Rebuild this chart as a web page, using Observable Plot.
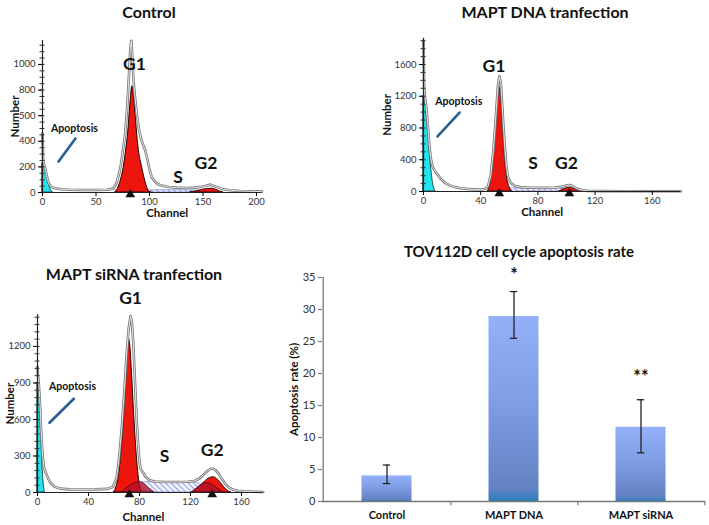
<!DOCTYPE html>
<html><head><meta charset="utf-8">
<script src="https://cdn.jsdelivr.net/npm/d3@7"></script>
<script src="https://cdn.jsdelivr.net/npm/@observablehq/plot@0.6"></script>
<style>
body{margin:0;background:#fff;}
#root{position:relative;width:709px;height:525px;overflow:hidden;font-family:Lato,"Open Sans",sans-serif;}
.panel{position:absolute;}
.title{position:absolute;font-weight:bold;font-size:16px;transform:translate(-50%,-50%);white-space:nowrap;color:#111;font-family:Lato,"Open Sans",sans-serif;}
</style></head><body>
<svg width="0" height="0" style="position:absolute">
<defs>
<pattern id="hatch" patternUnits="userSpaceOnUse" width="4" height="4" patternTransform="rotate(-45)">
<rect width="4" height="4" fill="#f1f2ff"/>
<line x1="0" y1="0" x2="0" y2="4" stroke="#7079d8" stroke-width="1.4"/>
</pattern>
<linearGradient id="barGrad" x1="0" y1="0" x2="0" y2="1">
<stop offset="0%" stop-color="#93b0f9"/>
<stop offset="45%" stop-color="#809ee6"/>
<stop offset="93%" stop-color="#6482c2"/>
<stop offset="98%" stop-color="#3f7fbf"/>
<stop offset="100%" stop-color="#1d82b2"/>
</linearGradient>
</defs></svg>
<div id="root"></div>
<script>
// ---------- Control histogram ----------
const ctrlOutline = [[0,460],[0.6,260],[1.2,225],[2,205],[3,170],[4,130],[5,95],[6,70],[8,45],[10,38],[13,30],[18,25],[25,22],[35,20],[50,20],[60,22],[66,30],[69,70],[71,130],[73,200],[75,320],[77,440],[79,650],[81,950],[82,1120],[83,1185],[84,1050],[85,880],[86,780],[88,620],[90,500],[92,420],[94,370],[96,330],[98,260],[100,180],[102,120],[105,85],[108,65],[112,52],[118,43],[125,38],[135,35],[142,38],[148,45],[153,52],[157,62],[160,50],[164,40],[168,28],[175,18],[185,12],[195,9],[205,7]];
const ctrlCyan = [[0,230],[1,222],[2,200],[3,170],[4,130],[5,95],[6,62],[7,35],[8,15],[9,5],[10,0]];
const ctrlG1 = [[68,0],[71,40],[74,120],[76,200],[78,320],[80,460],[82,680],[84,830],[86,700],[88,500],[90,330],[93,200],[96,90],[98,35],[100,5],[102,0]];
const ctrlG2 = [[138,0],[145,12],[150,22],[155,28],[158,30],[162,22],[166,8],[169,0]];
const ctrlS = [[95,0],[98,15],[110,18],[125,18],[140,16],[150,10],[158,0]];
const ctrlPeaks = [82];
const ctrlXTicks = [0,50,100,150,200];
const ctrlYTicks = [0,200,400,600,800,1000];
const ctrlYLabels = ["0","200","400","500","800","1000"];
const ctrlPhase = [{t:"G1",x:86,y:1000},{t:"S",x:126.6,y:117},{t:"G2",x:152.8,y:226}];
const ctrlApop = {t:"Apoptosis",x:29.9,y:502};
const ctrlSlash = {x1:15,y1:242,x2:30.8,y2:422};

// ---------- MAPT DNA histogram ----------
const dnaOutline = [[0,1900],[0.5,1300],[1,1200],[2,1050],[3,850],[4,600],[5,430],[6,340],[7,290],[8,255],[10,210],[12,160],[15,110],[18,80],[22,55],[26,42],[30,33],[35,28],[40,25],[43,32],[45,60],[47,200],[49,550],[51,1050],[52,1320],[53,1450],[54,1380],[55,1100],[56,800],[57,520],[58,320],[59,190],[61,110],[64,70],[68,55],[75,48],[85,46],[92,50],[97,62],[100,75],[102,82],[104,72],[106,50],[108,30],[111,15],[115,8],[125,5],[140,4],[160,3],[180,3]];
const dnaCyan = [[0,1200],[1,1170],[2,1000],[3,780],[4,560],[5,360],[6,190],[7,70],[8,15],[8.5,0]];
const dnaG1 = [[45,0],[47,120],[49,420],[50,700],[51,980],[52,1220],[52.8,1320],[53.5,1300],[54.5,1150],[55.5,850],[56.5,560],[57.5,330],[58.5,170],[60,60],[62,0]];
const dnaG2 = [[95,0],[97,18],[99,35],[101,45],[103,45],[105,35],[107,20],[109,6],[111,0]];
const dnaS = [[56,0],[59,35],[65,40],[80,40],[92,40],[98,35],[102,20],[106,0]];
const dnaPeaks = [53,102];
const dnaXTicks = [0,40,80,120,160];
const dnaYTicks = [0,400,800,1200,1600];
const dnaYLabels = ["0","400","800","1200","1600"];
const dnaPhase = [{t:"G1",x:49.3,y:1578},{t:"S",x:76.6,y:349},{t:"G2",x:100,y:349}];
const dnaApop = {t:"Apoptosis",x:24.7,y:1137};
const dnaSlash = {x1:9.8,y1:693,x2:25.2,y2:995};

// ---------- MAPT siRNA histogram ----------
const sirOutline = [[0,1030],[0.5,950],[1,900],[2,720],[3,480],[4,300],[5,210],[6,175],[8,125],[10,80],[13,50],[18,32],[25,26],[35,25],[45,26],[55,30],[59,45],[62,120],[64,280],[66,520],[68,820],[70,1150],[71.5,1350],[73,1450],[74,1400],[75,1250],[76,1020],[77,780],[78,560],[79,380],[80,250],[81,190],[82,175],[83,160],[85,125],[88,100],[92,90],[100,86],[110,86],[118,88],[123,95],[127,115],[130,145],[133,175],[136,195],[138,195],[140,180],[142,155],[144,120],[146,90],[148,62],[150,42],[153,25],[157,15],[162,10],[170,6],[177,4]];
const sirCyan = [[0,900],[1,860],[2,680],[3,440],[4,200],[5,60],[5.8,0]];
const sirG1 = [[60,0],[62,50],[64,150],[66,350],[68,650],[70,1000],[71.5,1270],[73,1180],[74,1000],[75.5,700],[77,430],[78.5,220],[80,80],[82,0]];
const sirG2 = [[121,0],[124,20],[127,45],[130,75],[133,105],[136,122],[138,125],[140,118],[142,100],[144,75],[146,48],[148,25],[150,8],[152,0]];
const sirS = [[78,0],[80,80],[85,85],[100,85],[115,85],[122,83],[127,70],[131,40],[134,0]];
const sirDark1 = [[66,0],[70,35],[74,65],[78,82],[81,85],[84,70],[87,40],[90,15],[92,0]];
const sirDark2 = [[121,0],[125,35],[129,65],[132,78],[135,75],[138,58],[141,35],[144,12],[146,0]];
const sirPeaks = [72,137];
const sirXTicks = [0,40,80,120,160];
const sirYTicks = [0,300,600,900,1200];
const sirYLabels = ["0","300","600","900","1200"];
const sirPhase = [{t:"G1",x:73,y:1592},{t:"S",x:99.6,y:298},{t:"G2",x:137,y:345}];
const sirApop = {t:"Apoptosis",x:27.5,y:873};
const sirSlash = {x1:9.4,y1:573,x2:28.5,y2:770};

// ---------- Bar chart ----------
const categories = ["Control","MAPT DNA","MAPT siRNA"];
const rates = [4.0, 28.9, 11.6];
const errLow = [2.8, 25.5, 7.6];
const errHigh = [5.7, 32.8, 15.9];
const stars = ["", "*", "**"];
const starY = [0, 36.0, 20.1];
const barYTicks = [0,5,10,15,20,25,30,35];

const root = document.getElementById("root");
function place(el, left, top){ el.classList.add("panel"); el.style.left=left+"px"; el.style.top=top+"px"; root.appendChild(el); }
function title(text, cx, cy, size){ const d=document.createElement("div"); d.className="title"; d.textContent=text; d.style.left=cx+"px"; d.style.top=cy+"px"; if(size) d.style.fontSize=size+"px"; root.appendChild(d); }

const xy = {x: d=>d[0], y: d=>d[1], curve: "monotone-x"};
function hist(o){
  const fw = o.width - o.ml - o.mr;
  const marks = [];
  marks.push(Plot.areaY(o.s, {...xy, fill:"url(#hatch)", stroke:"#6a72cc", strokeWidth:0.6}));
  marks.push(Plot.areaY(o.cyan, {...xy, fill:"#22e4ee", stroke:"#0a2a2a", strokeWidth:0.8}));
  marks.push(Plot.areaY(o.g1, {...xy, fill:"#ec160e", stroke:"#200", strokeWidth:1}));
  marks.push(Plot.areaY(o.g2, {...xy, fill:"#ec160e", stroke:"#200", strokeWidth:0.9}));
  for (const dk of (o.dark||[])) marks.push(Plot.areaY(dk, {...xy, fill:"#b0102c", fillOpacity:0.8, stroke:"#300", strokeWidth:0.6}));
  marks.push(Plot.line(o.outline, {x:d=>d[0], y:d=>d[1], stroke:"#777", strokeWidth:2.6}));
  marks.push(Plot.line(o.outline, {x:d=>d[0], y:d=>d[1], stroke:"#f2f2f2", strokeWidth:0.9}));
  marks.push(Plot.ruleY([0], {stroke:"#222", strokeWidth:1}));
  marks.push(Plot.ruleX([0], {stroke:"#222", strokeWidth:1.2}));
  marks.push(Plot.tickY(o.minor, {y:d=>d, stroke:"#333", insetLeft:-2.5, insetRight:fw-2.5}));
  marks.push(Plot.axisX({ticks:o.xTicks, tickSize:4, tickPadding:2, label:null, fontSize:9.5, fill:"#333"}));
  marks.push(Plot.axisY({ticks:o.yTicks, tickFormat:d=>o.yLabels[o.yTicks.indexOf(d)], tickSize:4, tickPadding:3, label:null, fontSize:9.5, fill:"#333"}));
  marks.push(Plot.dot(o.peaks, {x:d=>d, y:0, symbol:"triangle", fill:"#111", stroke:null, r:3.6, dy:2}));
  marks.push(Plot.text(o.phase, {x:"x", y:"y", text:"t", fontSize:17.5, fontWeight:"bold", fill:"#111"}));
  marks.push(Plot.text([o.apop], {x:"x", y:"y", text:"t", fontSize:10.5, fontWeight:"bold", fill:"#111"}));
  marks.push(Plot.link([o.slash], {x1:"x1", y1:"y1", x2:"x2", y2:"y2", stroke:"#2b5d92", strokeWidth:2.6, strokeLinecap:"round"}));
  marks.push(Plot.text(["Number"], {frameAnchor:"left", textAnchor:"middle", lineAnchor:"middle", text:d=>d, rotate:-90, dx:o.numDx, fontSize:11.5, fontWeight:"bold", fill:"#111"}));
  marks.push(Plot.text(["Channel"], {frameAnchor:"bottom", textAnchor:"middle", lineAnchor:"middle", text:d=>d, dx:o.chDx, dy:o.chDy, fontSize:11.5, fontWeight:"bold", fill:"#111"}));
  return Plot.plot({
    width:o.width, height:o.height, marginLeft:o.ml, marginRight:o.mr, marginTop:o.mt, marginBottom:o.mb,
    x:{domain:[0,o.xMax], axis:null}, y:{domain:[0,o.yMax], axis:null},
    style:{fontFamily:"Lato, 'Open Sans', sans-serif", background:"transparent", overflow:"visible"},
    marks
  });
}

const d3range = (a,b,s)=>d3.range(a,b,s);

place(hist({width:280,height:225,ml:42,mr:18.6,mt:40,mb:33,xMax:205,yMax:1187,
  outline:ctrlOutline,cyan:ctrlCyan,g1:ctrlG1,g2:ctrlG2,s:ctrlS,peaks:ctrlPeaks,
  xTicks:ctrlXTicks,yTicks:ctrlYTicks,yLabels:ctrlYLabels,minor:d3range(0,1180,50),
  phase:ctrlPhase,apop:ctrlApop,slash:ctrlSlash,numDx:-27,chDx:15,chDy:21}),0,0);

place(hist({width:349,height:225,ml:63,mr:28.6,mt:37.8,mb:34,xMax:180,yMax:1930,
  outline:dnaOutline,cyan:dnaCyan,g1:dnaG1,g2:dnaG2,s:dnaS,peaks:dnaPeaks,
  xTicks:dnaXTicks,yTicks:dnaYTicks,yLabels:dnaYLabels,minor:d3range(0,1920,100),
  phase:dnaPhase,apop:dnaApop,slash:dnaSlash,numDx:-36,chDx:-10,chDy:21}),360,0);

place(hist({width:290,height:235,ml:37,mr:27.3,mt:24.3,mb:33,xMax:177,yMax:1460,
  outline:sirOutline,cyan:sirCyan,g1:sirG1,g2:sirG2,s:sirS,dark:[sirDark1,sirDark2],peaks:sirPeaks,
  xTicks:sirXTicks,yTicks:sirYTicks,yLabels:sirYLabels,minor:d3range(0,1450,60),
  phase:sirPhase,apop:sirApop,slash:sirSlash,numDx:-27,chDx:-7,chDy:25}),0,290);

// Bar chart
const barData = categories.map((c,i)=>({c, v:rates[i], lo:errLow[i], hi:errHigh[i], star:stars[i], sy:starY[i]}));
const bml=32, bmr=4, bw=(419-bml-bmr)/3;
const bar = Plot.plot({
  width:419, height:295, marginLeft:bml, marginRight:bmr, marginTop:47, marginBottom:24,
  x:{domain:categories, padding:0, axis:null},
  y:{domain:[0,35], axis:null},
  style:{fontFamily:"Lato, 'Open Sans', sans-serif", background:"transparent", overflow:"visible"},
  marks:[
    Plot.barY(barData, {x:"c", y:"v", fill:"url(#barGrad)", insetLeft:38.5, insetRight:38.5}),
    Plot.ruleX(barData, {x:"c", y1:"lo", y2:"hi", stroke:"#222", strokeWidth:1.3}),
    Plot.tickY(barData, {x:"c", y:"hi", stroke:"#222", strokeWidth:1.3, insetLeft:(bw-8)/2, insetRight:(bw-8)/2}),
    Plot.tickY(barData, {x:"c", y:"lo", stroke:"#222", strokeWidth:1.3, insetLeft:(bw-8)/2, insetRight:(bw-8)/2}),
    Plot.text(barData.filter(d=>d.star), {x:"c", y:"sy", text:"star", fontSize:18, fontWeight:"bold", fill:"#111", dy:4}),
    Plot.ruleY([0], {stroke:"#777", strokeWidth:1.3}),
    Plot.ruleX([categories[0]], {x:d=>d, stroke:"#777", strokeWidth:1.3, dx:-bw/2, y1:0, y2:35}),
    Plot.ruleX(barData, {x:"c", dx:bw/2, y1:0, y2:-0.65, stroke:"#777", strokeWidth:1.2}),
    Plot.axisY({ticks:barYTicks, tickSize:4, tickPadding:3, label:null, fontSize:11, fill:"#333", stroke:"#777"}),
    Plot.axisX({tickSize:0, tickPadding:10, label:null, fontSize:11, fontWeight:"bold", fill:"#111"}),
    Plot.text(["Apoptosis rate (%)"], {frameAnchor:"left", textAnchor:"middle", lineAnchor:"middle", text:d=>d, rotate:-90, dx:-28, fontSize:11.5, fontWeight:"bold", fill:"#111"})
  ]
});
place(bar, 290, 230);

title("Control", 149, 11);
title("MAPT DNA tranfection", 545, 11);
title("MAPT siRNA tranfection", 134, 273);
title("TOV112D cell cycle apoptosis rate", 519, 251, 15);
</script>
</body></html>
